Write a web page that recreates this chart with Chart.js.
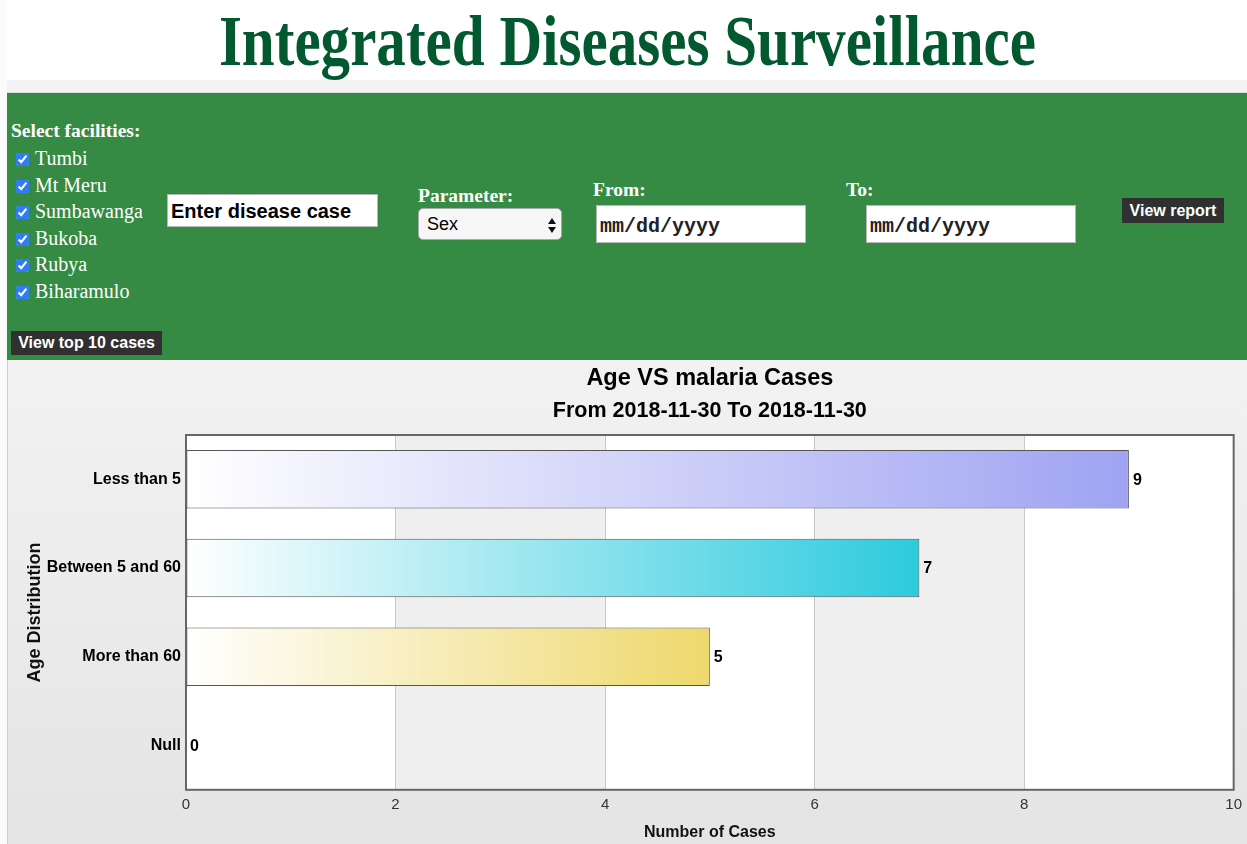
<!DOCTYPE html>
<html>
<head>
<meta charset="utf-8">
<title>Integrated Diseases Surveillance</title>
<script src="https://cdn.jsdelivr.net/npm/chart.js@4.4.0/dist/chart.umd.min.js"></script>
<style>
  body { margin: 0; width: 1247px; height: 844px; overflow: hidden; background: #fbfbfb; position: relative; font-family: "Liberation Sans", Arial, sans-serif; }
  .abs { position: absolute; line-height: 1; white-space: nowrap; }
  #header { position: absolute; left: 7px; top: 0; width: 1240px; height: 80px; background: #fff; }
  #header h1 { position: absolute; left: 0; top: 6px; width: 100%; margin: 0; text-align: center; font: bold 71px/1 "Liberation Serif", "Times New Roman", serif; color: #03592f; transform: scaleX(0.832); transform-origin: 50.2% 50%; }
  #strip { position: absolute; left: 7px; top: 80px; width: 1240px; height: 12px; background: #f3f3f3; border-bottom: 1px solid #dcdcdc; }
  #panel { position: absolute; left: 7px; top: 93px; width: 1240px; height: 267px; background: #358b43; }
  .lbl { font: bold 19.5px/1 "Liberation Serif", serif; color: #fff; }
  .fac { font: 20px/1 "Liberation Serif", serif; color: #fff; }
  .chk { position: absolute; width: 13px; height: 13px; margin: 0; accent-color: #2f7cf6; }
  .btn { position: absolute; background: #303030; color: #fff; font: bold 16px/1 "Liberation Sans", Arial, sans-serif; display: flex; align-items: center; justify-content: center; }
  .box { position: absolute; box-sizing: border-box; background: #fff; border: 1px solid #b8b8b8; display: flex; align-items: center; }
  .date { font: bold 20px/1 "Liberation Mono", "Courier New", monospace; color: #222; padding-left: 3px; padding-top: 6px; }
  #sel { position: absolute; left: 418px; top: 208px; width: 144px; height: 32px; box-sizing: border-box; background: #f6f6f6; border: 1px solid #a9a9a9; border-radius: 5px; font: 18px/1 "Liberation Sans", Arial, sans-serif; color: #000; display: flex; align-items: center; padding-left: 8px; }
  .arr { position: absolute; right: 5px; width: 0; height: 0; border-left: 4px solid transparent; border-right: 4px solid transparent; }
  #chartWrap { position: absolute; left: 7px; top: 360px; width: 1240px; height: 484px; background: linear-gradient(#f2f2f2, #e4e4e4); border-left: 1px solid #cfcfcf; box-sizing: border-box; }
  #chartBox { position: absolute; left: 1px; top: 0; width: 1239px; height: 484px; }
</style>
</head>
<body>
<div id="header"><h1>Integrated Diseases Surveillance</h1></div>
<div id="strip"></div>
<div id="panel"></div>

<div class="abs lbl" style="left:11px; top:121px;">Select facilities:</div>
<div id="facilities"></div>

<div class="box" style="left:167px; top:194px; width:211px; height:33px; font: bold 20px/1 'Liberation Sans', Arial, sans-serif; padding-left:3px;">Enter disease case</div>

<div class="abs lbl" style="left:418px; top:186px;">Parameter:</div>
<div id="sel">Sex
  <div class="arr" style="top:9px; border-bottom:6px solid #111;"></div>
  <div class="arr" style="top:18px; border-top:6px solid #111;"></div>
</div>

<div class="abs lbl" style="left:593px; top:180px;">From:</div>
<div class="box date" style="left:596px; top:205px; width:210px; height:38px;">mm/dd/yyyy</div>

<div class="abs lbl" style="left:846px; top:180px;">To:</div>
<div class="box date" style="left:866px; top:205px; width:210px; height:38px;">mm/dd/yyyy</div>

<div class="btn" style="left:1122px; top:198px; width:102px; height:25px;">View report</div>
<div class="btn" style="left:11px; top:331px; width:151px; height:24px;">View top 10 cases</div>

<div id="chartWrap"><div id="chartBox"><canvas id="ageChart"></canvas></div></div>

<script>
// facility checkboxes
const facilities = ['Tumbi', 'Mt Meru', 'Sumbawanga', 'Bukoba', 'Rubya', 'Biharamulo'];
facilities.forEach((f, i) => {
  const base = 165 + i * 26.6;
  const c = document.createElement('input');
  c.type = 'checkbox';
  c.checked = true;
  c.className = 'chk';
  c.style.left = '16px';
  c.style.top = (base - 12) + 'px';
  document.body.appendChild(c);
  const t = document.createElement('div');
  t.className = 'abs fac';
  t.style.left = '35px';
  t.style.top = (base - 17) + 'px';
  t.textContent = f;
  document.body.appendChild(t);
});

// chart data
const ageGroups = ['Less than 5', 'Between 5 and 60', 'More than 60', 'Null'];
const caseCounts = [9, 7, 5, 0];
const barEndColors = ['#9fa3f2', '#2ccbde', '#eed86b', '#cccccc'];
const xTicks = [0, 2, 4, 6, 8, 10];

const bandsPlugin = {
  id: 'bands',
  beforeDraw(chart) {
    const { ctx, chartArea: a, scales: { x } } = chart;
    ctx.save();
    ctx.fillStyle = '#ffffff';
    ctx.fillRect(a.left, a.top, a.right - a.left, a.bottom - a.top);
    ctx.fillStyle = '#efefef';
    for (let i = 1; i < xTicks.length - 1; i += 2) {
      const x0 = x.getPixelForValue(xTicks[i]);
      const x1 = x.getPixelForValue(xTicks[i + 1]);
      ctx.fillRect(x0, a.top, x1 - x0, a.bottom - a.top);
    }
    ctx.restore();
  }
};

const frameAndLabels = {
  id: 'frameAndLabels',
  afterDatasetsDraw(chart) {
    const { ctx, chartArea: a } = chart;
    ctx.save();
    ctx.strokeStyle = '#666';
    ctx.lineWidth = 2;
    ctx.strokeRect(a.left, a.top, a.right - a.left, a.bottom - a.top);
    ctx.font = 'bold 16px "Liberation Sans", Arial, sans-serif';
    ctx.fillStyle = '#000';
    ctx.textBaseline = 'middle';
    const meta = chart.getDatasetMeta(0);
    meta.data.forEach((bar, i) => {
      ctx.fillText(String(caseCounts[i]), bar.x + 4, bar.y + 1);
    });
    ctx.restore();
  }
};

new Chart(document.getElementById('ageChart'), {
  type: 'bar',
  data: {
    labels: ageGroups,
    datasets: [{
      data: caseCounts,
      backgroundColor: (c) => {
        const chart = c.chart;
        const a = chart.chartArea;
        const end = barEndColors[c.dataIndex] || barEndColors[0];
        if (!a || c.dataIndex === undefined || !chart.scales.x) return end;
        const xe = chart.scales.x.getPixelForValue(c.raw || 0);
        if (xe - a.left < 2) return end;
        const g = chart.ctx.createLinearGradient(a.left, 0, xe, 0);
        g.addColorStop(0, '#ffffff');
        g.addColorStop(1, end);
        return g;
      },
      borderColor: '#555',
      borderWidth: 1,
      borderSkipped: false,
      barPercentage: 1,
      categoryPercentage: 0.66
    }]
  },
  options: {
    indexAxis: 'y',
    responsive: true,
    maintainAspectRatio: false,
    animation: false,
    layout: { padding: { top: 0, right: 13, bottom: 0, left: 0 } },
    plugins: {
      legend: { display: false },
      tooltip: { enabled: false },
      title: {
        display: true,
        fullSize: false,
        text: 'Age VS malaria Cases',
        color: '#000',
        font: { family: '"Liberation Sans", Arial, sans-serif', size: 23.5, weight: 'bold' },
        padding: { top: 4, bottom: 5 }
      },
      subtitle: {
        display: true,
        fullSize: false,
        text: 'From 2018-11-30 To 2018-11-30',
        color: '#000',
        font: { family: '"Liberation Sans", Arial, sans-serif', size: 21.5, weight: 'bold' },
        padding: { top: 1, bottom: 11 }
      }
    },
    scales: {
      x: {
        min: 0,
        max: 10,
        afterBuildTicks: (s) => { s.ticks = xTicks.map(v => ({ value: v })); },
        grid: { color: '#c8c8c8', drawTicks: false },
        border: { display: false },
        ticks: { color: '#333', padding: 6, font: { family: '"Liberation Sans", Arial, sans-serif', size: 15 } },
        title: {
          display: true,
          text: 'Number of Cases',
          color: '#111',
          font: { family: '"Liberation Sans", Arial, sans-serif', size: 16, weight: 'bold' },
          padding: { top: 3, bottom: 2 }
        }
      },
      y: {
        grid: { display: false, drawTicks: false },
        border: { display: false },
        afterFit: (s) => { s.width = 177; },
        ticks: { color: '#000', padding: 5, font: { family: '"Liberation Sans", Arial, sans-serif', size: 16, weight: 'bold' } },
        title: {
          display: true,
          text: 'Age Distribution',
          color: '#111',
          font: { family: '"Liberation Sans", Arial, sans-serif', size: 18, weight: 'bold' },
          padding: { top: 15, bottom: 0 }
        }
      }
    }
  },
  plugins: [bandsPlugin, frameAndLabels]
});
</script>
</body>
</html>
